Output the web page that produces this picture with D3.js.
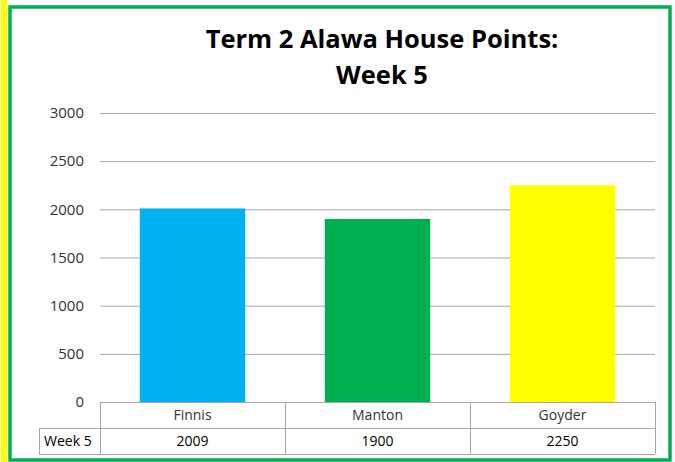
<!DOCTYPE html>
<html>
<head>
<meta charset="utf-8">
<script src="https://cdn.jsdelivr.net/npm/d3@7"></script>
<style>
  body { margin: 0; background: #fff; }
  svg { display: block; font-family: "Open Sans", "Noto Sans", sans-serif; }
</style>
</head>
<body>
<div id="chart"></div>
<script>
// Datos del gráfico
const houses = ["Finnis", "Manton", "Goyder"];
const points = [2009, 1900, 2250];
const houseColors = ["#00b0f0", "#00b050", "#ffff00"];
const yTicks = [0, 500, 1000, 1500, 2000, 2500, 3000];
const seriesName = "Week 5";
const titleLines = ["Term 2 Alawa House Points:", "Week 5"];

const width = 675, height = 462;
const plot = { left: 100, right: 655, top: 113, bottom: 402 };
const rowH = 26;

const svg = d3.select("#chart").append("svg")
    .attr("width", width)
    .attr("height", height);

// Marcos: franja amarilla y borde verde
svg.append("rect").attr("x", 1).attr("y", 0).attr("width", 6).attr("height", height).attr("fill", "#ffff00");
svg.append("rect").attr("x", 10).attr("y", 7).attr("width", 660).attr("height", 453)
    .attr("fill", "none").attr("stroke", "#00b050").attr("stroke-width", 3.5);

const x = d3.scaleBand().domain(houses).range([plot.left, plot.right]).paddingInner(0).paddingOuter(0);
const y = d3.scaleLinear().domain([0, 3000]).range([plot.bottom, plot.top]);
const barW = x.bandwidth() * 0.57;

// Líneas de cuadrícula
svg.append("g").selectAll("line").data(yTicks.filter(d => d > 0)).enter().append("line")
    .attr("x1", plot.left).attr("x2", plot.right)
    .attr("y1", d => y(d) + 0.5).attr("y2", d => y(d) + 0.5)
    .attr("stroke", "#a6a6a6").attr("stroke-width", 1);

// Etiquetas del eje Y
svg.append("g").selectAll("text").data(yTicks).enter().append("text")
    .attr("x", 84).attr("y", d => y(d)).attr("dy", "0.35em")
    .attr("text-anchor", "end").attr("font-size", 15).attr("fill", "#333")
    .text(d => d);

// Barras
svg.append("g").selectAll("rect").data(points).enter().append("rect")
    .attr("x", (d, i) => x(houses[i]) + (x.bandwidth() - barW) / 2)
    .attr("y", d => y(d))
    .attr("width", barW)
    .attr("height", d => y(0) - y(d))
    .attr("fill", (d, i) => houseColors[i]);

// Tabla de datos
const tableLeft = 39;
const grid = svg.append("g").attr("stroke", "#a6a6a6").attr("stroke-width", 1).attr("fill", "none");
grid.append("line").attr("x1", plot.left).attr("x2", plot.right).attr("y1", plot.bottom + 0.5).attr("y2", plot.bottom + 0.5);
grid.append("line").attr("x1", tableLeft).attr("x2", plot.right).attr("y1", plot.bottom + rowH + 0.5).attr("y2", plot.bottom + rowH + 0.5);
grid.append("line").attr("x1", tableLeft).attr("x2", plot.right).attr("y1", plot.bottom + 2 * rowH + 0.5).attr("y2", plot.bottom + 2 * rowH + 0.5);
grid.append("line").attr("x1", tableLeft + 0.5).attr("x2", tableLeft + 0.5).attr("y1", plot.bottom + rowH).attr("y2", plot.bottom + 2 * rowH);
const dividers = houses.map(h => x(h)).concat([plot.right]);
grid.selectAll("line.div").data(dividers).enter().append("line")
    .attr("x1", d => Math.round(d) + 0.5).attr("x2", d => Math.round(d) + 0.5)
    .attr("y1", plot.bottom).attr("y2", plot.bottom + 2 * rowH);

svg.append("g").selectAll("text").data(houses).enter().append("text")
    .attr("x", d => x(d) + x.bandwidth() / 2).attr("y", plot.bottom + rowH / 2).attr("dy", "0.35em")
    .attr("text-anchor", "middle").attr("font-size", 14).attr("fill", "#333")
    .text(d => d);

svg.append("g").selectAll("text").data(points).enter().append("text")
    .attr("x", (d, i) => x(houses[i]) + x.bandwidth() / 2).attr("y", plot.bottom + rowH * 1.5).attr("dy", "0.35em")
    .attr("text-anchor", "middle").attr("font-size", 14).attr("fill", "#000")
    .text(d => d);

svg.append("text").attr("x", 44).attr("y", plot.bottom + rowH * 1.5).attr("dy", "0.35em")
    .attr("font-size", 14).attr("fill", "#000").text(seriesName);

// Título
svg.append("g").selectAll("text").data(titleLines).enter().append("text")
    .attr("x", 382).attr("y", (d, i) => 48 + i * 36)
    .attr("text-anchor", "middle").attr("font-size", 25.5).attr("font-weight", "bold").attr("fill", "#000")
    .text(d => d);
</script>
</body>
</html>
